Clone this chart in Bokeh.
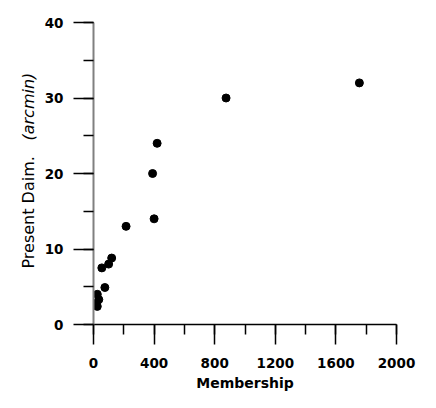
import math
from bokeh.plotting import figure
from bokeh.layouts import row
from bokeh.models import Range1d, SingleIntervalTicker
from bokeh.core.properties import value
from bokeh.embed import file_html
from bokeh.resources import INLINE

membership = [1755, 875, 420, 390, 400, 215, 120, 100, 55, 75, 25, 35, 25, 20]
diameter = [32, 30, 24, 20, 14, 13, 8.8, 8.0, 7.5, 4.9, 4.0, 3.3, 2.4, 2.8]
x_label = "Membership"
y_label_main = "Present Daim."
y_label_unit = "(arcmin)"

H = 394
LW = 40
TOP = 22
FH = 302
BOTTOM = H - TOP - FH

# narrow panel that carries the rotated y-axis title; its frame matches the
# main plot's frame vertically so that its y units equal canvas pixels
t = figure(width=LW, height=H, output_backend="svg", toolbar_location=None,
           x_range=Range1d(0, LW), y_range=Range1d(TOP + FH, TOP),
           x_axis_type=None, y_axis_type=None,
           min_border_left=0, min_border_right=0,
           min_border_top=TOP, min_border_bottom=BOTTOM)
t.frame_width = LW
t.frame_height = FH
t.outline_line_color = None
t.grid.visible = False
t.text(x=[28], y=[268], text=[y_label_main], angle=math.pi / 2,
       text_align="left", text_baseline="middle",
       text_font=value("DejaVu Sans"), text_font_size="16px", text_color="black")
t.text(x=[28], y=[140], text=[y_label_unit], angle=math.pi / 2,
       text_align="left", text_baseline="middle",
       text_font=value("DejaVu Sans"), text_font_size="16px",
       text_font_style="italic", text_color="black")

p = figure(width=420 - LW, height=H, output_backend="svg", toolbar_location=None,
           x_range=Range1d(0, 2000), y_range=Range1d(0, 40),
           min_border_left=93 - LW, min_border_top=TOP, min_border_right=24,
           min_border_bottom=BOTTOM)
p.frame_width = 303
p.frame_height = FH
p.outline_line_color = None
p.grid.visible = False

p.scatter(membership, diameter, size=8, color="black", marker="circle")

for ax in (p.xaxis[0], p.yaxis[0]):
    ax.major_tick_out = 20
    ax.major_tick_in = 0
    ax.minor_tick_out = 10
    ax.minor_tick_in = 0
    ax.major_tick_line_color = "black"
    ax.minor_tick_line_color = "black"
    ax.major_tick_line_width = 1.5
    ax.minor_tick_line_width = 1.5
    ax.major_label_text_font = "DejaVu Sans"
    ax.major_label_text_font_style = "bold"
    ax.major_label_text_font_size = "13.5px"
    ax.major_label_text_color = "black"

p.xaxis[0].ticker = SingleIntervalTicker(interval=400, num_minor_ticks=2)
p.yaxis[0].ticker = SingleIntervalTicker(interval=10, num_minor_ticks=2)
p.xaxis[0].axis_line_color = "black"
p.xaxis[0].axis_line_width = 1.5
p.yaxis[0].axis_line_color = "#808080"
p.yaxis[0].axis_line_width = 2
p.xaxis[0].major_label_standoff = 13
p.yaxis[0].major_label_standoff = 10

p.xaxis[0].axis_label = x_label
p.xaxis[0].axis_label_text_font = "DejaVu Sans"
p.xaxis[0].axis_label_text_font_style = "bold"
p.xaxis[0].axis_label_text_font_size = "14px"
p.xaxis[0].axis_label_text_color = "black"
p.xaxis[0].axis_label_standoff = 4

layout = row(t, p, spacing=0)
open("out.html", "w").write(file_html(layout, INLINE))
